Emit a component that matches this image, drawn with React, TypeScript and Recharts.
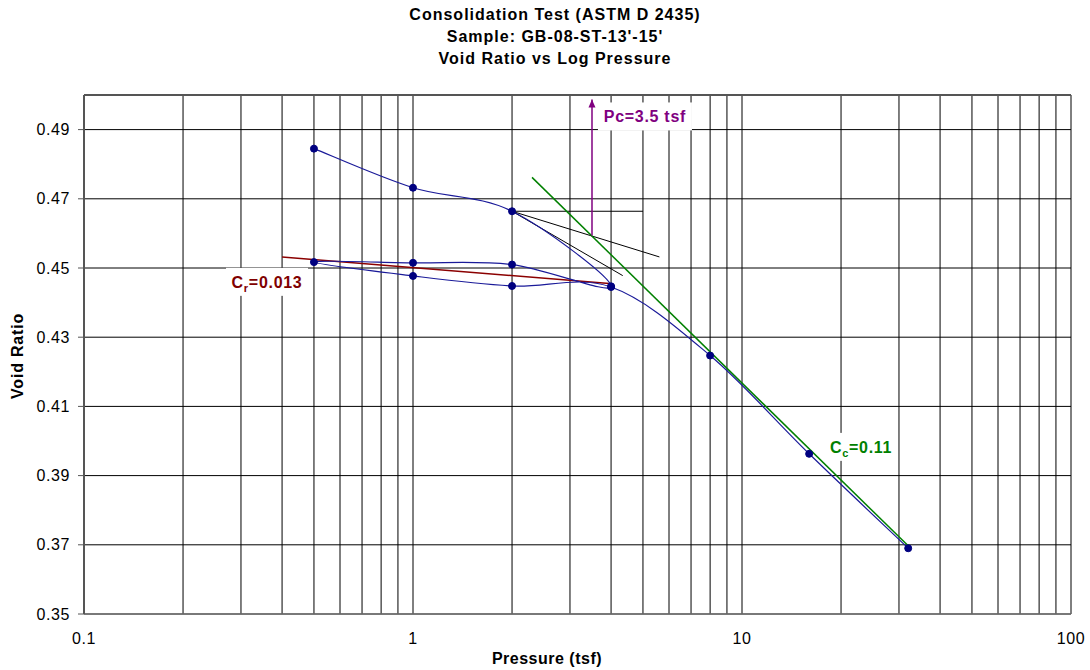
import React from "react";
import { LineChart, Line, XAxis, YAxis, CartesianGrid, ReferenceDot } from "recharts";

// test sequence: load 0.5-4, unload to 0.5, reload to 32 tsf
const pressure = [0.5, 1, 2, 4, 2, 1, 0.5, 1, 2, 4, 8, 16, 32];
const voidRatio = [0.4845, 0.4732, 0.4664, 0.4447, 0.451, 0.4515, 0.4517, 0.4477, 0.4448, 0.4445, 0.4247, 0.3963, 0.369];

// Casagrande construction
const horizP = [2, 5];
const horizE = [0.4664, 0.4664];
const tangentP = [2, 4.34];
const tangentE = [0.4664, 0.4478];
const bisectP = [2, 5.61];
const bisectE = [0.4664, 0.4532];
const pcP = [3.5, 3.5];
const pcE = [0.4594, 0.4987];
const ccP = [2.3, 32];
const ccE = [0.4762, 0.3697];
const crP = [0.4, 3.95];
const crE = [0.4532, 0.4455];

const xTicks = [
  0.1, 0.2, 0.3, 0.4, 0.5, 0.6, 0.7, 0.8, 0.9,
  1, 2, 3, 4, 5, 6, 7, 8, 9,
  10, 20, 30, 40, 50, 60, 70, 80, 90, 100,
];
const xLabels = [0.1, 1, 10, 100];
const yTicks = [0.35, 0.37, 0.39, 0.41, 0.43, 0.45, 0.47, 0.49];

const toRows = (ps: number[], es: number[]) => ps.map((p, i) => ({ p, e: es[i] }));

const FONT = "'Liberation Sans', Arial, sans-serif";

// Excel-like smoothed line (uniform Catmull-Rom through the points)
const smoothCurve: any = (context: any) => {
  let pts: number[][] = [];
  return {
    areaStart() {},
    areaEnd() {},
    lineStart() {
      pts = [];
    },
    lineEnd() {
      if (!pts.length) return;
      context.moveTo(pts[0][0], pts[0][1]);
      for (let i = 0; i < pts.length - 1; i++) {
        const p0 = pts[i - 1] || pts[i];
        const p1 = pts[i];
        const p2 = pts[i + 1];
        const p3 = pts[i + 2] || p2;
        context.bezierCurveTo(
          p1[0] + (p2[0] - p0[0]) / 6, p1[1] + (p2[1] - p0[1]) / 6,
          p2[0] - (p3[0] - p1[0]) / 6, p2[1] - (p3[1] - p1[1]) / 6,
          p2[0], p2[1],
        );
      }
    },
    point(x: number, y: number) {
      pts.push([+x, +y]);
    },
  };
};

const ArrowHead = (props: any) => {
  const { cx, cy, index } = props;
  if (index !== 1) return <g key={`a${index}`} />;
  return <path key="arrow" d={`M${cx},${cy} L${cx - 3.5},${cy + 8} L${cx + 3.5},${cy + 8} Z`} fill="#800080" />;
};

const boxLabel = (main: string, sub: string, rest: string, color: string, w: number) => (props: any) => {
  const { cx, cy } = props;
  return (
    <g>
      <rect x={cx - w / 2} y={cy - 14} width={w} height={28} fill="#fff" />
      <text x={cx} y={cy + 6} textAnchor="middle" fill={color} fontFamily={FONT} fontWeight="bold" fontSize={16} letterSpacing={0.7}>
        {main}
        {sub && <tspan fontSize={11} dy={4}>{sub}</tspan>}
        <tspan dy={sub ? -4 : 0}>{rest}</tspan>
      </text>
    </g>
  );
};

export default function App() {
  const data = toRows(pressure, voidRatio);
  const axisTick = { fontSize: 16, fill: "#000", fontFamily: FONT, letterSpacing: 0.6 };

  return (
    <div style={{ position: "relative", width: 1090, height: 670, fontFamily: FONT, background: "#fff" }}>
      <style>{`body{margin:0}`}</style>
      <div style={{ position: "absolute", left: 0, width: 1110, top: 4, textAlign: "center", fontWeight: "bold", fontSize: 16, lineHeight: "22px", letterSpacing: 1 }}>
        <div>Consolidation Test (ASTM D 2435)</div>
        <div>Sample: GB-08-ST-13'-15'</div>
        <div>Void Ratio vs Log Pressure</div>
      </div>

      <LineChart width={1090} height={670} margin={{ top: 90, right: 19, bottom: 26, left: 24 }}>
        <CartesianGrid stroke="#000" strokeWidth={1} />
        <XAxis
          dataKey="p"
          type="number"
          scale="log"
          domain={[0.1, 100]}
          allowDataOverflow
          ticks={xTicks}
          interval={0}
          tickFormatter={(v: number) => (xLabels.includes(v) ? String(v) : "")}
          tick={axisTick}
          tickLine={false}
          tickSize={0}
          tickMargin={19}
          height={30}
          axisLine={{ stroke: "#777", strokeWidth: 1.5 }}
        />
        <XAxis
          xAxisId="top"
          orientation="top"
          type="number"
          scale="log"
          domain={[0.1, 100]}
          allowDataOverflow
          ticks={xTicks}
          interval={0}
          tick={false}
          tickSize={4}
          height={5}
          tickLine={{ stroke: "#333" }}
          axisLine={{ stroke: "#555", strokeWidth: 2 }}
        />
        <YAxis
          type="number"
          domain={[0.35, 0.5]}
          allowDataOverflow
          ticks={yTicks}
          interval={0}
          tickFormatter={(v: number) => v.toFixed(2)}
          tick={axisTick}
          tickSize={6}
          tickMargin={8}
          width={60}
          tickLine={{ stroke: "#555" }}
          axisLine={{ stroke: "#555", strokeWidth: 2 }}
        />

        <Line data={toRows(horizP, horizE)} dataKey="e" type="linear" stroke="#000" strokeWidth={1} dot={false} isAnimationActive={false} />
        <Line data={toRows(tangentP, tangentE)} dataKey="e" type="linear" stroke="#000" strokeWidth={1} dot={false} isAnimationActive={false} />
        <Line data={toRows(bisectP, bisectE)} dataKey="e" type="linear" stroke="#000" strokeWidth={1} dot={false} isAnimationActive={false} />
        <Line data={toRows(crP, crE)} dataKey="e" type="linear" stroke="#8B0000" strokeWidth={1.5} dot={false} isAnimationActive={false} />
        <Line data={toRows(ccP, ccE)} dataKey="e" type="linear" stroke="#008000" strokeWidth={1.5} dot={false} isAnimationActive={false} />
        <Line data={toRows(pcP, pcE)} dataKey="e" type="linear" stroke="#800080" strokeWidth={1.5} dot={ArrowHead} isAnimationActive={false} />

        <Line
          data={data}
          dataKey="e"
          type={smoothCurve}
          stroke="#1a1a99"
          strokeWidth={1.2}
          dot={{ r: 3.5, fill: "#000080", stroke: "#000080", strokeWidth: 1 }}
          isAnimationActive={false}
        />

        <ReferenceDot x={5.07} y={0.4938} r={0} shape={boxLabel("Pc=3.5 tsf", "", "", "#800080", 94)} />
        <ReferenceDot x={0.36} y={0.446} r={0} shape={boxLabel("C", "r", "=0.013", "#800000", 82)} />
        <ReferenceDot x={23} y={0.3983} r={0} shape={boxLabel("C", "c", "=0.11", "#008000", 74)} />
      </LineChart>

      <div style={{ position: "absolute", left: 18, top: 356, transform: "translate(-50%,-50%) rotate(-90deg)", fontWeight: "bold", fontSize: 16, letterSpacing: 0.8, whiteSpace: "nowrap" }}>
        Void Ratio
      </div>
      <div style={{ position: "absolute", left: 547, top: 650, transform: "translateX(-50%)", fontWeight: "bold", fontSize: 16, letterSpacing: 0.5, whiteSpace: "nowrap" }}>
        Pressure (tsf)
      </div>
    </div>
  );
}
